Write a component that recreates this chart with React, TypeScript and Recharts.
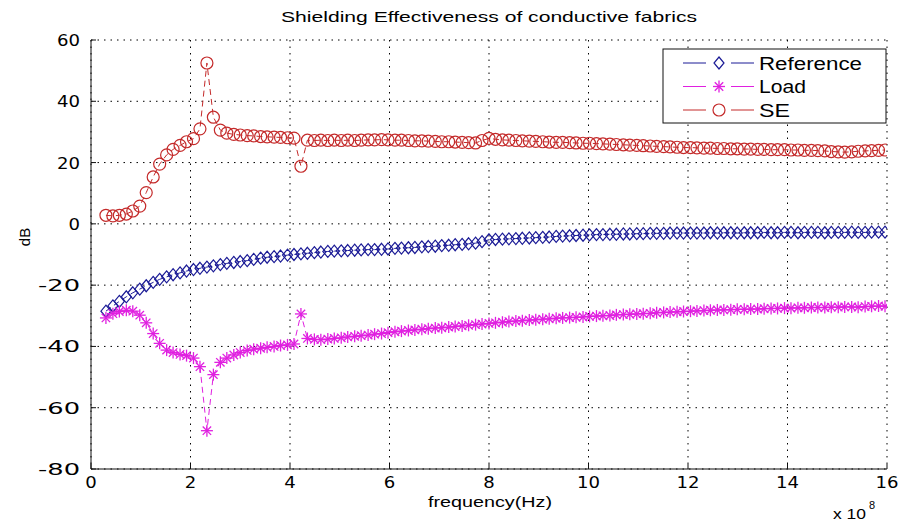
import { LineChart, Line, XAxis, YAxis, CartesianGrid } from 'recharts'

// frequency sweep, units of 1e8 Hz
const freq = [
  0.3, 0.44, 0.57, 0.71, 0.84, 0.98, 1.11, 1.25, 1.38, 1.52,
  1.65, 1.79, 1.92, 2.06, 2.19, 2.33, 2.46, 2.6, 2.73, 2.87,
  3.0, 3.14, 3.27, 3.41, 3.54, 3.68, 3.81, 3.95, 4.08, 4.22,
  4.35, 4.49, 4.62, 4.76, 4.89, 5.03, 5.16, 5.3, 5.43, 5.57,
  5.7, 5.84, 5.97, 6.11, 6.24, 6.38, 6.51, 6.65, 6.78, 6.92,
  7.05, 7.19, 7.32, 7.46, 7.59, 7.73, 7.86, 8.0, 8.13, 8.27,
  8.4, 8.54, 8.67, 8.81, 8.94, 9.08, 9.21, 9.35, 9.48, 9.62,
  9.75, 9.89, 10.02, 10.16, 10.29, 10.43, 10.56, 10.7, 10.83, 10.97,
  11.1, 11.24, 11.37, 11.51, 11.64, 11.78, 11.91, 12.05, 12.18, 12.32,
  12.45, 12.59, 12.72, 12.86, 12.99, 13.13, 13.26, 13.4, 13.53, 13.67,
  13.8, 13.94, 14.07, 14.21, 14.34, 14.48, 14.61, 14.75, 14.88, 15.02,
  15.15, 15.29, 15.42, 15.56, 15.69, 15.83, 15.96,
]

const reference = [
  -28.5, -26.8, -25.3, -23.8, -22.5, -21.3, -20.2, -19.1, -18.1, -17.3,
  -16.6, -16.0, -15.4, -14.9, -14.5, -14.1, -13.7, -13.3, -12.9, -12.6,
  -12.3, -12.0, -11.6, -11.2, -10.9, -10.7, -10.5, -10.2, -10.0, -9.8,
  -9.6, -9.4, -9.2, -9.0, -8.9, -8.8, -8.7, -8.6, -8.5, -8.4,
  -8.4, -8.3, -8.2, -8.0, -7.9, -7.8, -7.7, -7.5, -7.4, -7.3,
  -7.1, -7.0, -6.8, -6.7, -6.5, -6.3, -5.8, -5.2, -5.1, -5.0,
  -4.9, -4.8, -4.7, -4.6, -4.5, -4.4, -4.3, -4.1, -4.0, -3.9,
  -3.8, -3.7, -3.6, -3.5, -3.5, -3.4, -3.4, -3.3, -3.3, -3.2,
  -3.2, -3.1, -3.1, -3.1, -3.0, -3.0, -3.0, -3.0, -3.0, -3.0,
  -2.9, -3.0, -2.9, -2.9, -3.0, -2.9, -2.9, -2.9, -2.8, -2.9,
  -2.9, -2.8, -2.8, -2.9, -2.8, -2.8, -2.8, -2.9, -2.8, -2.8,
  -2.8, -2.7, -2.8, -2.8, -2.7, -2.7, -2.7,
]

const load = [
  -30.7, -29.3, -28.6, -28.2, -28.5, -29.8, -32.3, -35.8, -39.0, -41.2,
  -42.0, -42.6, -43.0, -43.8, -46.6, -67.5, -49.2, -45.2, -43.8, -42.8,
  -42.0, -41.3, -40.9, -40.6, -40.3, -40.0, -39.7, -39.5, -39.2, -29.4,
  -37.4, -37.7, -37.8, -37.6, -37.4, -37.2, -36.9, -36.7, -36.5, -36.3,
  -36.0, -35.8, -35.5, -35.2, -35.0, -34.8, -34.6, -34.4, -34.2, -34.0,
  -33.9, -33.7, -33.5, -33.3, -33.1, -32.9, -32.7, -32.5, -32.3, -32.1,
  -31.9, -31.7, -31.6, -31.4, -31.3, -31.1, -31.0, -30.8, -30.7, -30.6,
  -30.5, -30.4, -30.2, -30.1, -30.0, -29.9, -29.7, -29.6, -29.5, -29.4,
  -29.3, -29.2, -29.0, -28.9, -28.8, -28.7, -28.6, -28.5, -28.4, -28.3,
  -28.2, -28.1, -28.1, -28.0, -27.9, -27.9, -27.8, -27.8, -27.7, -27.6,
  -27.6, -27.5, -27.5, -27.4, -27.4, -27.3, -27.3, -27.3, -27.2, -27.2,
  -27.1, -27.1, -27.2, -27.0, -26.9, -26.8, -26.9,
]

const se = [
  2.8, 2.6, 2.8, 3.2, 4.2, 5.8, 10.2, 15.3, 19.5, 22.5,
  24.3, 25.6, 26.8, 27.8, 31.0, 52.5, 34.8, 30.6, 29.6, 29.2,
  29.0, 28.8, 28.7, 28.5, 28.4, 28.3, 28.2, 28.1, 28.0, 18.8,
  27.3, 27.2, 27.3, 27.2, 27.3, 27.2, 27.3, 27.2, 27.3, 27.4,
  27.4, 27.5, 27.4, 27.3, 27.3, 27.2, 27.1, 27.1, 27.0, 26.9,
  26.8, 26.8, 26.7, 26.6, 26.5, 26.4, 27.2, 27.9, 27.6, 27.4,
  27.3, 27.2, 27.1, 27.0, 26.9, 26.8, 26.7, 26.6, 26.6, 26.5,
  26.4, 26.3, 26.3, 26.2, 26.1, 26.0, 25.9, 25.8, 25.7, 25.6,
  25.5, 25.4, 25.3, 25.2, 25.1, 25.0, 24.9, 24.9, 24.8, 24.7,
  24.7, 24.6, 24.6, 24.5, 24.5, 24.4, 24.4, 24.3, 24.3, 24.2,
  24.2, 24.2, 24.1, 24.1, 24.0, 24.0, 23.9, 23.8, 23.6, 23.5,
  23.4, 23.5, 23.7, 23.8, 23.9, 24.0, 24.1,
]

const xTicks = [0, 2, 4, 6, 8, 10, 12, 14, 16]
const yTicks = [-80, -60, -40, -20, 0, 20, 40, 60]
const seriesNames = ['Reference', 'Load', 'SE']

const BLUE = '#1b1b96'
const MAGENTA = '#e020e0'
const RED = '#c42a2a'
const AXIS = '#111'
const FONT = 'DejaVu Sans, Verdana, sans-serif'

const rows = freq.map((f, i) => ({ f, reference: reference[i], load: load[i], se: se[i] }))

// the source figure's labels are drawn wide, so stretch glyphs a bit
function labelWidth(s: string) {
  let w = 0
  for (const ch of s) w += ch === '-' ? 19 : 11.5
  return w
}

function XTick(props: any) {
  const { x, y, payload } = props
  const s = String(payload.value)
  return (
    <text x={x} y={y + 11} fontSize={16} fontFamily={FONT} fill="#000" textAnchor="middle"
      textLength={labelWidth(s)} lengthAdjust="spacingAndGlyphs">
      {s}
    </text>
  )
}

function YTick(props: any) {
  const { x, y, payload } = props
  const s = String(payload.value)
  return (
    <text x={x} y={y + 6} fontSize={16} fontFamily={FONT} fill="#000" textAnchor="end"
      textLength={labelWidth(s)} lengthAdjust="spacingAndGlyphs">
      {s}
    </text>
  )
}

function diamond(cx: number, cy: number, color: string, key?: string) {
  return (
    <path
      key={key}
      d={`M${cx},${cy - 6}L${cx + 5},${cy}L${cx},${cy + 6}L${cx - 5},${cy}Z`}
      fill="none"
      stroke={color}
      strokeWidth={1.2}
    />
  )
}

function star(cx: number, cy: number, color: string, key?: string) {
  const r = 6
  const d = r * 0.7
  return (
    <g key={key} stroke={color} strokeWidth={1.3}>
      <line x1={cx - r} y1={cy} x2={cx + r} y2={cy} />
      <line x1={cx} y1={cy - r} x2={cx} y2={cy + r} />
      <line x1={cx - d} y1={cy - d} x2={cx + d} y2={cy + d} />
      <line x1={cx - d} y1={cy + d} x2={cx + d} y2={cy - d} />
    </g>
  )
}

function circle(cx: number, cy: number, color: string, key?: string) {
  return <circle key={key} cx={cx} cy={cy} r={6} fill="none" stroke={color} strokeWidth={1.2} />
}

const markers = [
  (cx: number, cy: number, k?: string) => diamond(cx, cy, BLUE, k),
  (cx: number, cy: number, k?: string) => star(cx, cy, MAGENTA, k),
  (cx: number, cy: number, k?: string) => circle(cx, cy, RED, k),
]
const colors = [BLUE, MAGENTA, RED]

export default function App() {
  return (
    <div style={{ position: 'absolute', left: 0, top: 0, width: 911, height: 522, background: '#fff' }}>
      <LineChart width={911} height={522} data={rows} margin={{ top: 40, right: 24, bottom: 23, left: 0 }}>
        <CartesianGrid stroke="#000" strokeDasharray="1.5 5" strokeWidth={1} />
        <XAxis
          dataKey="f"
          type="number"
          domain={[0, 16]}
          ticks={xTicks}
          allowDataOverflow
          height={30}
          stroke={AXIS}
          tickSize={-5}
          tickMargin={13}
          tick={<XTick />}
        />
        <XAxis
          xAxisId="top"
          orientation="top"
          type="number"
          domain={[0, 16]}
          ticks={xTicks}
          height={0}
          stroke={AXIS}
          tickSize={-5}
          tickFormatter={() => ''}
        />
        <YAxis
          type="number"
          domain={[-80, 60]}
          ticks={yTicks}
          allowDataOverflow
          width={91}
          stroke={AXIS}
          tickSize={-5}
          tickMargin={16}
          tick={<YTick />}
        />
        <YAxis
          yAxisId="right"
          orientation="right"
          type="number"
          domain={[-80, 60]}
          ticks={yTicks}
          width={0}
          stroke={AXIS}
          tickSize={-5}
          tickFormatter={() => ''}
        />
        <Line
          dataKey="reference"
          stroke={BLUE}
          strokeWidth={1}
          strokeDasharray="6 4"
          isAnimationActive={false}
          dot={(p: any) => diamond(p.cx, p.cy, BLUE, `r${p.index}`)}
        />
        <Line
          dataKey="load"
          stroke={MAGENTA}
          strokeWidth={1}
          strokeDasharray="6 4"
          isAnimationActive={false}
          dot={(p: any) => star(p.cx, p.cy, MAGENTA, `l${p.index}`)}
        />
        <Line
          dataKey="se"
          stroke={RED}
          strokeWidth={1}
          strokeDasharray="6 4"
          isAnimationActive={false}
          dot={(p: any) => circle(p.cx, p.cy, RED, `s${p.index}`)}
        />
      </LineChart>

      <svg
        width={911}
        height={522}
        style={{ position: 'absolute', left: 0, top: 0, pointerEvents: 'none' }}
        fontFamily="Liberation Sans, Arial, sans-serif"
      >
        <text x={489} y={22} fontSize={15} textAnchor="middle" textLength={416} lengthAdjust="spacingAndGlyphs">
          Shielding Effectiveness of conductive fabrics
        </text>
        <text x={490} y={507} fontSize={15} textAnchor="middle" textLength={124} lengthAdjust="spacingAndGlyphs">
          frequency(Hz)
        </text>
        <text x={30} y={237} fontSize={15} textAnchor="middle" transform="rotate(-90 30 237)">
          dB
        </text>
        <text x={833} y={519} fontSize={15} textLength={33} lengthAdjust="spacingAndGlyphs">
          x 10
        </text>
        <text x={869} y={509} fontSize={11}>
          8
        </text>

        <rect x={663} y={49} width={223} height={74} fill="#fff" stroke={AXIS} strokeWidth={1} />
        {seriesNames.map((name, i) => {
          const y = 63 + i * 23.5
          const lens = [103, 47, 31]
          return (
            <g key={name}>
              <line x1={683} y1={y} x2={755} y2={y} stroke={colors[i]} strokeWidth={1} strokeDasharray="23 25" />
              {markers[i](719, y)}
              <text x={759} y={y + 6.5} fontSize={17.5} textLength={lens[i]} lengthAdjust="spacingAndGlyphs">
                {name}
              </text>
            </g>
          )
        })}
      </svg>
    </div>
  )
}
